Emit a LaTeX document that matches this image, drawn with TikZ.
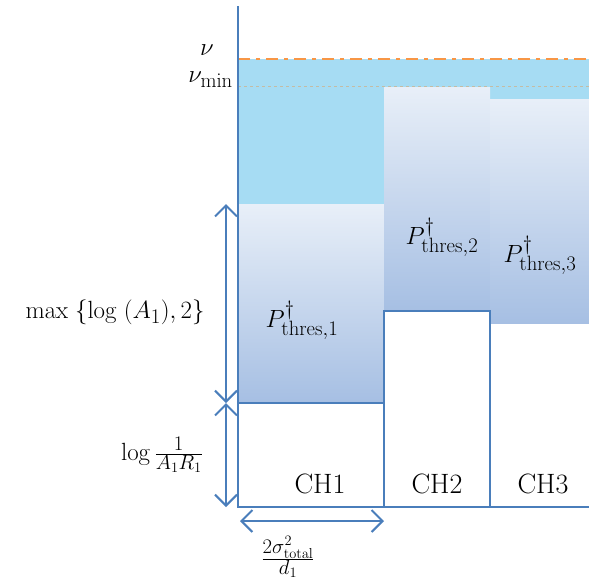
\documentclass[tikz,border=0pt]{standalone}
\usetikzlibrary{arrows.meta}
\definecolor{axisblue}{HTML}{4A7EBB}
\definecolor{skyb}{HTML}{A6DCF3}
\definecolor{gtop}{HTML}{E8EFF8}
\definecolor{gbot}{HTML}{A6BFE3}
\definecolor{orng}{HTML}{F79646}
\definecolor{tanline}{HTML}{C4BCA4}
\begin{document}
\begin{tikzpicture}[x=1pt,y=-1pt,
  font=\fontsize{28}{33}\selectfont,
  grad/.style={top color=gtop,bottom color=gbot,draw=none},
  boxw/.style={fill=white,draw=axisblue,line width=1.4pt},
  dimarrow/.style={draw=axisblue,line width=2pt,{Straight Barb[length=11pt,width=22pt]}-{Straight Barb[length=11pt,width=22pt]}},
  lbl/.style={inner sep=0pt}]
\useasboundingbox (0,0) rectangle (589,582);
% sky band
\fill[skyb] (238,59) rectangle (589,204);
% gradients
\shade[grad] (238,204) rectangle (384,403);
\shade[grad] (384,87) rectangle (490,311);
\shade[grad] (490,99) rectangle (589,324);
% white boxes
\draw[boxw] (238,403) rectangle (384,507);
\draw[boxw] (384,311) rectangle (490,507);
\fill[white] (490,324) rectangle (589,507);
\draw[axisblue,line width=1.4pt] (490,311) -- (490,507);
% lines
\draw[orng,line width=2.6pt,dash pattern=on 12pt off 6pt on 4pt off 6pt] (238,59) -- (589,59);
\draw[tanline,line width=1pt,dashed] (238,86) -- (589,86);
% axes
\draw[axisblue,line width=1.8pt] (238,6) -- (238,507) -- (589,507);
% dimension coordinates
\coordinate (a1) at (226,204);
\coordinate (a2) at (226,403);
\coordinate (a3) at (226,507);
\coordinate (h1) at (240,521);
\coordinate (h2) at (384,521);
\draw[dimarrow] (a1) -- (a2);
\draw[dimarrow] (a2) -- (a3);
\draw[dimarrow] (h1) -- (h2);
% labels
\node[lbl] (nu) at (207,50) {$\nu$};
\node[lbl,anchor=east] (numin) at (233,80) {$\nu_{\min}$};
\node[lbl,font=\fontsize{30}{36}\selectfont] (mx) at (115,312) {$\max\;\{\log\;(A_1),2\}$};
\node[lbl] (lg) at (162,455) {$\log\frac{1}{A_1R_1}$};
\node[lbl,font=\fontsize{30}{36}\selectfont] (sg) at (288,557) {$\frac{2\sigma_{\mathrm{total}}^2}{d_1}$};
\node[lbl] (p1) at (302,320) {$P_{\mathrm{thres},1}^{\dagger}$};
\node[lbl] (p2) at (442,237) {$P_{\mathrm{thres},2}^{\dagger}$};
\node[lbl] (p3) at (540,255) {$P_{\mathrm{thres},3}^{\dagger}$};
\node[lbl] (c1) at (320,484) {CH1};
\node[lbl] (c2) at (437,484) {CH2};
\node[lbl] (c3) at (543,484) {CH3};
\end{tikzpicture}
\end{document}
